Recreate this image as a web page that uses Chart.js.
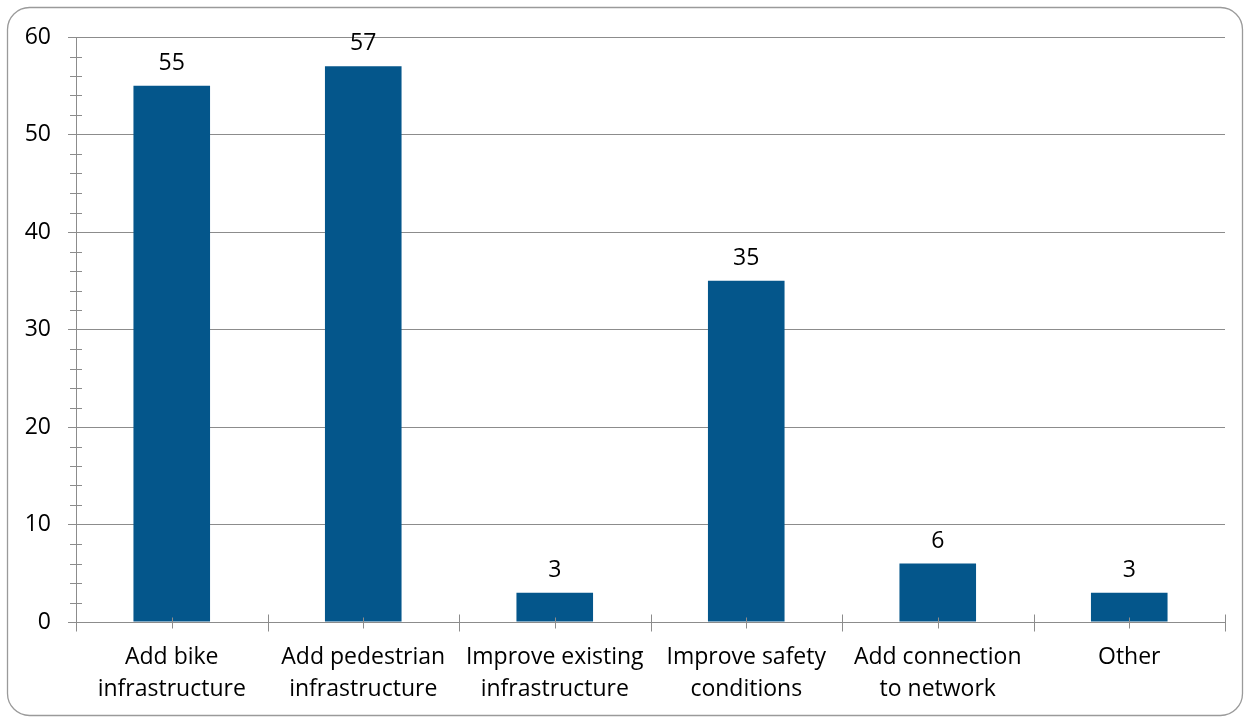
<!DOCTYPE html>
<html>
<head>
<meta charset="utf-8">
<script src="https://cdn.jsdelivr.net/npm/chart.js@4/dist/chart.umd.min.js"></script>
<style>
  html, body { margin: 0; padding: 0; background: #ffffff; }
  #wrap { width: 1250px; height: 717px; position: relative; }
</style>
</head>
<body>
<div id="wrap"><canvas id="c" width="1250" height="717"></canvas></div>
<script>
const categories = [
  ["Add bike", "infrastructure"],
  ["Add pedestrian", "infrastructure"],
  ["Improve existing", "infrastructure"],
  ["Improve safety", "conditions"],
  ["Add connection", "to network"],
  ["Other"]
];
const responses = [55, 57, 3, 35, 6, 3];
const yMin = 0, yMax = 60, yStep = 10, yMinorStep = 2;

const AXIS = '#8c8c8c';
const FONT = "'Open Sans', 'Noto Sans', sans-serif";

const decorPlugin = {
  id: 'decor',
  beforeDraw(chart) {
    const ctx = chart.ctx;
    ctx.save();
    ctx.strokeStyle = '#9a9a9a';
    ctx.lineWidth = 1.3;
    const x = 7.5, y = 7.5, w = 1235, h = 708, r = 22;
    ctx.beginPath();
    ctx.moveTo(x + r, y);
    ctx.lineTo(x + w - r, y);
    ctx.arcTo(x + w, y, x + w, y + r, r);
    ctx.lineTo(x + w, y + h - r);
    ctx.arcTo(x + w, y + h, x + w - r, y + h, r);
    ctx.lineTo(x + r, y + h);
    ctx.arcTo(x, y + h, x, y + h - r, r);
    ctx.lineTo(x, y + r);
    ctx.arcTo(x, y, x + r, y, r);
    ctx.closePath();
    ctx.stroke();
    ctx.restore();
  },
  afterDraw(chart) {
    const ctx = chart.ctx;
    const xs = chart.scales.x, ys = chart.scales.y;
    const area = chart.chartArea;
    ctx.save();
    ctx.strokeStyle = AXIS;
    ctx.lineWidth = 1;
    // y minor ticks
    for (let v = yMin; v <= yMax; v += yMinorStep) {
      if (v % yStep === 0) continue;
      const py = Math.round(ys.getPixelForValue(v)) + 0.5;
      ctx.beginPath();
      ctx.moveTo(area.left - 6, py);
      ctx.lineTo(area.left + 6, py);
      ctx.stroke();
    }
    // x ticks: boundaries (major) and centers (minor)
    const n = categories.length;
    const half = (xs.getPixelForTick(1) - xs.getPixelForTick(0)) / 2;
    const by = Math.round(area.bottom) + 0.5;
    for (let i = 0; i < n; i++) {
      const c = xs.getPixelForTick(i);
      const cx = Math.round(c) + 0.5;
      ctx.beginPath();
      ctx.moveTo(cx, by - 5);
      ctx.lineTo(cx, by + 6);
      ctx.stroke();
      const edges = [c - half];
      if (i === n - 1) edges.push(c + half);
      edges.forEach(e => {
        const ex = Math.round(e) + 0.5;
        ctx.beginPath();
        ctx.moveTo(ex, by - 8);
        ctx.lineTo(ex, by + 9);
        ctx.stroke();
      });
    }
    // value labels
    const meta = chart.getDatasetMeta(0);
    ctx.fillStyle = '#000000';
    ctx.font = "23px " + FONT;
    ctx.textAlign = 'center';
    ctx.textBaseline = 'bottom';
    meta.data.forEach((bar, i) => {
      ctx.fillText(String(responses[i]), bar.x, bar.y - 11);
    });
    ctx.restore();
  }
};

new Chart(document.getElementById('c'), {
  type: 'bar',
  data: {
    labels: categories,
    datasets: [{
      data: responses,
      backgroundColor: '#04568b',
      borderWidth: 0,
      barPercentage: 0.4,
      categoryPercentage: 1.0
    }]
  },
  options: {
    responsive: false,
    animation: false,
    devicePixelRatio: 1,
    layout: { padding: { top: 37, right: 25, left: 0, bottom: 0 } },
    plugins: { legend: { display: false }, tooltip: { enabled: false } },
    scales: {
      x: {
        offset: true,
        grid: { display: true, drawOnChartArea: false, drawTicks: false, offset: true },
        border: { display: true, color: AXIS, width: 1 },
        ticks: {
          color: '#000000',
          font: { family: FONT, size: 23, lineHeight: 1.39 },
          padding: 19,
          maxRotation: 0, autoSkip: false
        },
        afterFit(scale) { scale.height = 95; }
      },
      y: {
        min: yMin, max: yMax,
        grid: { color: AXIS, tickLength: 8, drawTicks: true },
        border: { display: true, color: AXIS, width: 1 },
        ticks: {
          stepSize: yStep,
          color: '#000000',
          font: { family: FONT, size: 23 },
          padding: 17
        },
        afterFit(scale) { scale.width = 76; }
      }
    }
  },
  plugins: [decorPlugin]
});
</script>
</body>
</html>
